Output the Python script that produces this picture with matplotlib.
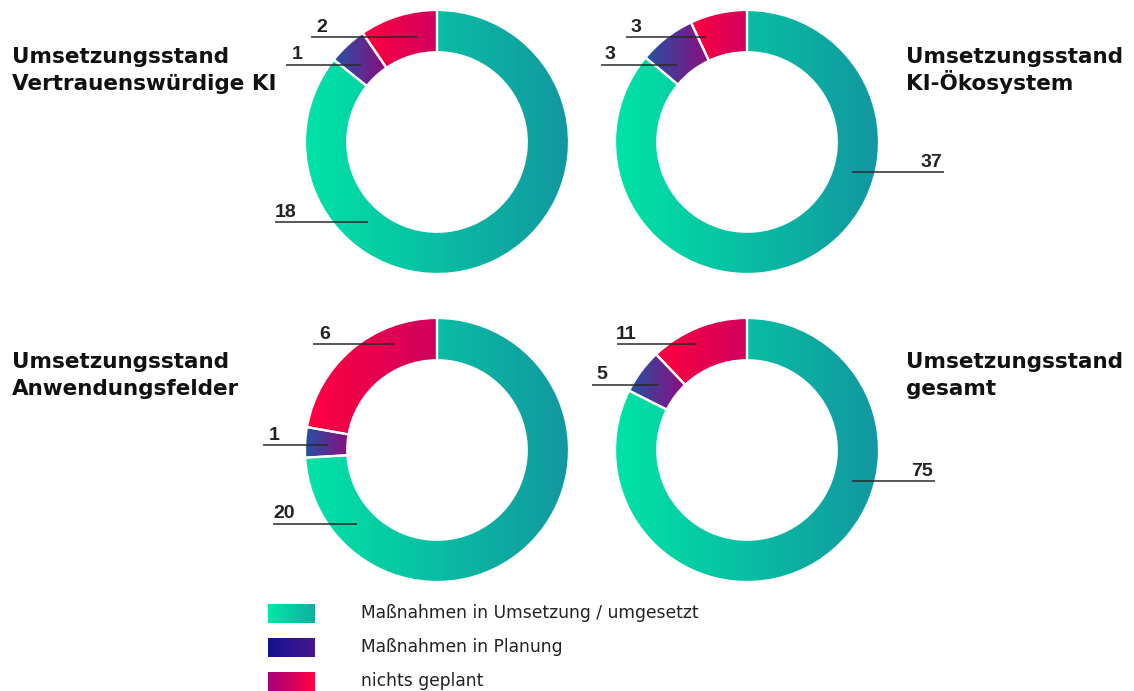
import numpy as np
import matplotlib
matplotlib.use('Agg')
import matplotlib.pyplot as plt
from matplotlib.colors import LinearSegmentedColormap

# daten
titles = [['Umsetzungsstand', 'Vertrauenswürdige KI'],
          ['Umsetzungsstand', 'KI-Ökosystem'],
          ['Umsetzungsstand', 'Anwendungsfelder'],
          ['Umsetzungsstand', 'gesamt']]
umsetzung = [18, 37, 20, 75]
planung = [1, 3, 1, 5]
nichts = [2, 3, 6, 11]
legend_labels = ['Maßnahmen in Umsetzung / umgesetzt', 'Maßnahmen in Planung', 'nichts geplant']

W, H = 1134, 691
centers = [(437, 142), (747, 142), (437, 450), (747, 450)]  # pixel
R = 132
ring = 0.32

# titel: x, baseline erste zeile
title_pos = [(12, 63), (906, 63), (12, 368), (906, 368)]

# beschriftung: (linie x0, x1, y, text x, text y, ha) fuer umsetzung, planung, nichts
label_pos = [
    [(275, 368, 222, 275, 217, 'left'), (286, 361, 65, 292, 59, 'left'), (311, 417, 37, 316, 32, 'left')],
    [(852, 944, 172, 942, 167, 'right'), (601, 677, 65, 605, 59, 'left'), (626, 706, 37, 631, 32, 'left')],
    [(273, 357, 524, 273, 518, 'left'), (263, 328, 445, 269, 440, 'left'), (313, 394, 344, 319, 339, 'left')],
    [(852, 935, 481, 933, 476, 'right'), (592, 659, 385, 596, 379, 'left'), (617, 696, 344, 616, 339, 'left')],
]

cm_green = LinearSegmentedColormap.from_list('g', ['#00E4A6', '#1297A0'])
cm_blue = LinearSegmentedColormap.from_list('b', ['#2452A2', '#8E0C80'])
cm_red = LinearSegmentedColormap.from_list('r', ['#FF0040', '#CF005D'])
cmaps = [cm_green, cm_blue, cm_red]

leg_cmaps = [LinearSegmentedColormap.from_list('lg', ['#00E8A8', '#10AEA0']),
             LinearSegmentedColormap.from_list('lb', ['#14138F', '#4A1590']),
             LinearSegmentedColormap.from_list('lr', ['#A5007A', '#FF0040'])]

grad = np.linspace(0, 1, 256).reshape(1, -1)

fig = plt.figure(figsize=(W/100, H/100), dpi=100)

for i, (cx, cy) in enumerate(centers):
    ax = fig.add_axes([(cx-R)/W, 1-(cy+R)/H, 2*R/W, 2*R/H])
    vals = [umsetzung[i], planung[i], nichts[i]]
    wedges, _ = ax.pie(vals, startangle=90, counterclock=False, radius=1,
                       wedgeprops=dict(width=ring, edgecolor='white', linewidth=1.6))
    for k, w in enumerate(wedges):
        if k == 0:
            ext = (-1, 1, -1, 1)
        else:
            bb = w.get_path().get_extents()
            ext = (bb.x0, bb.x1, bb.y0, bb.y1)
        ax.imshow(grad, extent=ext, cmap=cmaps[k], aspect='auto',
                  interpolation='bilinear', clip_path=w, zorder=2)
        w.set_facecolor('none')
        w.set_zorder(3)
    ax.set_xlim(-1, 1)
    ax.set_ylim(-1, 1)
    ax.set_aspect('equal')
    ax.axis('off')

ov = fig.add_axes([0, 0, 1, 1], zorder=5)
ov.axis('off')
ov.patch.set_alpha(0)

for i in range(4):
    tx, ty = title_pos[i]
    for j, line in enumerate(titles[i]):
        ov.text(tx, ty + 27*j, line, fontsize=15.5, fontweight='bold',
                family='DejaVu Sans', color='#111111', va='baseline', ha='left')
    vals = [umsetzung[i], planung[i], nichts[i]]
    for v, (x0, x1, ly, lx, lyt, ha) in zip(vals, label_pos[i]):
        ov.plot([x0, x1], [ly, ly], color='#2a2a2a', lw=1.1, solid_capstyle='butt')
        ov.text(lx, lyt, str(v), fontsize=14, fontweight='bold',
                family='Liberation Sans', color='#222222', va='baseline', ha=ha)

# legende
for k, lab in enumerate(legend_labels):
    y0 = 604 + 34*k
    ov.imshow(grad, extent=(268, 315, y0+19, y0), cmap=leg_cmaps[k], aspect='auto',
              interpolation='bilinear')
    ov.text(361, y0 + 14, lab, fontsize=12.3, family='DejaVu Sans', color='#222222',
            va='baseline', ha='left')

ov.set_xlim(0, W)
ov.set_ylim(H, 0)

fig.savefig('out.png', dpi=100)
